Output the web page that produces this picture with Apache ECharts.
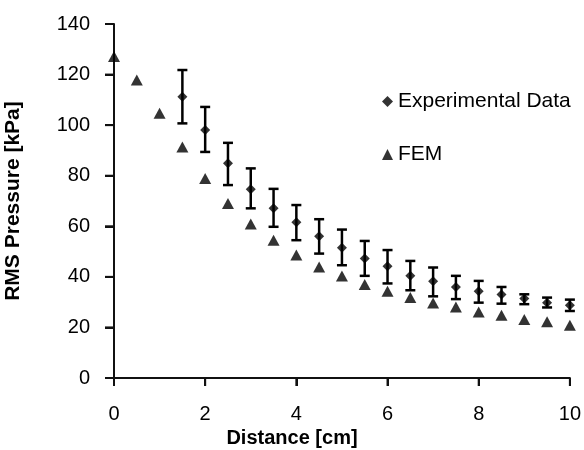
<!DOCTYPE html>
<html>
<head>
<meta charset="utf-8">
<script src="https://cdn.jsdelivr.net/npm/echarts@6/dist/echarts.min.js"></script>
<style>
html,body{margin:0;padding:0;background:#fff;}
#main{width:584px;height:450px;}
</style>
</head>
<body>
<div id="main"></div>
<script>
// experimental data (mean with error bars)
var expX = [1.5, 2, 2.5, 3, 3.5, 4, 4.5, 5, 5.5, 6, 6.5, 7, 7.5, 8, 8.5, 9, 9.5, 10];
var expMean = [111.2, 98.1, 84.9, 74.6, 67.1, 61.6, 56.1, 51.5, 47.3, 44.2, 40.4, 38.3, 36.0, 34.3, 33.0, 31.4, 29.8, 28.8];
var expLow = [100.7, 89.4, 76.3, 67.1, 59.8, 54.5, 49.2, 44.6, 40.4, 37.4, 34.7, 32.3, 31.2, 29.8, 29.4, 29.2, 27.9, 26.5];
var expHigh = [121.8, 107.2, 93.0, 82.9, 74.8, 68.4, 62.8, 58.7, 54.2, 50.6, 46.3, 43.7, 40.4, 38.4, 36.0, 33.1, 31.8, 31.0];

// FEM results
var femX = [0, 0.5, 1, 1.5, 2, 2.5, 3, 3.5, 4, 4.5, 5, 5.5, 6, 6.5, 7, 7.5, 8, 8.5, 9, 9.5, 10];
var femY = [127.1, 117.9, 104.7, 91.4, 78.9, 69.0, 60.9, 54.5, 48.6, 43.9, 40.3, 37.0, 34.3, 31.8, 29.7, 28.1, 26.1, 24.8, 23.1, 22.2, 20.9];

// tick values
var xTicks = [0, 2, 4, 6, 8, 10];
var yTicks = [0, 20, 40, 60, 80, 100, 120, 140];

var font = 'Liberation Sans';

var expData = [], errData = [], femData = [], xTickData = [], yTickData = [];
for (var i = 0; i < expX.length; i++) {
    expData.push([expX[i], expMean[i]]);
    errData.push([expX[i], expLow[i], expHigh[i]]);
}
for (var j = 0; j < femX.length; j++) {
    femData.push([femX[j], femY[j]]);
}
for (var k = 0; k < xTicks.length; k++) {
    xTickData.push([xTicks[k], 0]);
}
for (var m = 0; m < yTicks.length; m++) {
    yTickData.push([0, yTicks[m]]);
}

var tickStyle = {stroke: '#111', lineWidth: 2, fill: null};

var myChart = echarts.init(document.getElementById('main'));

var option = {
    animation: false,
    grid: {left: 114, right: 14, top: 24, bottom: 72},
    graphic: [
        {
            type: 'text',
            left: 'center',
            top: 428,
            style: {text: 'Distance [cm]', font: 'bold 20px "Liberation Sans"', fill: '#000'},
            x: 50
        },
        {
            type: 'text',
            rotation: Math.PI / 2,
            x: 13,
            y: 201,
            style: {text: 'RMS Pressure [kPa]', font: 'bold 21px "Liberation Sans"', fill: '#000', align: 'center', verticalAlign: 'middle'}
        }
    ],
    legend: {
        orient: 'vertical',
        left: 377,
        top: 86,
        itemWidth: 11,
        itemHeight: 11,
        itemGap: 32,
        textStyle: {fontFamily: font, fontSize: 21, color: '#000'},
        data: [
            {name: 'Experimental Data', icon: 'diamond'},
            {name: 'FEM', icon: 'triangle'}
        ]
    },
    xAxis: {
        type: 'value',
        min: 0,
        max: 10,
        interval: 2,
        splitLine: {show: false},
        axisLine: {show: true, lineStyle: {color: '#111', width: 2}},
        axisTick: {show: true, length: 8, lineStyle: {color: '#111', width: 2}},
        axisLabel: {fontFamily: font, fontSize: 20, color: '#000', margin: 26}
    },
    yAxis: {
        type: 'value',
        min: 0,
        max: 140,
        interval: 20,
        splitLine: {show: false},
        axisLine: {show: true, lineStyle: {color: '#111', width: 2}},
        axisTick: {show: true, length: 9, lineStyle: {color: '#111', width: 2}},
        axisLabel: {fontFamily: font, fontSize: 20, color: '#000', margin: 24}
    },
    series: [
        {
            name: 'Experimental Data',
            type: 'scatter',
            symbol: 'diamond',
            symbolSize: 10,
            itemStyle: {color: '#000'},
            data: expData,
            z: 3
        },
        {
            name: 'FEM',
            type: 'scatter',
            symbol: 'triangle',
            symbolSize: [12, 11],
            itemStyle: {color: '#000'},
            data: femData,
            clip: false,
            z: 3
        },
        {
            name: 'error',
            type: 'custom',
            renderItem: function (params, api) {
                var x = api.value(0);
                var lo = api.coord([x, api.value(1)]);
                var hi = api.coord([x, api.value(2)]);
                var half = 5;
                var style = {stroke: '#000', lineWidth: 2.5, fill: null};
                return {
                    type: 'group',
                    children: [
                        {type: 'line', shape: {x1: hi[0], y1: hi[1], x2: lo[0], y2: lo[1]}, style: style},
                        {type: 'line', shape: {x1: hi[0] - half, y1: hi[1], x2: hi[0] + half, y2: hi[1]}, style: style},
                        {type: 'line', shape: {x1: lo[0] - half, y1: lo[1], x2: lo[0] + half, y2: lo[1]}, style: style}
                    ]
                };
            },
            encode: {x: 0, y: [1, 2]},
            data: errData,
            z: 2
        },
        {
            name: 'xticks',
            type: 'custom',
            silent: true,
            clip: false,
            renderItem: function (params, api) {
                var p = api.coord([api.value(0), api.value(1)]);
                return {type: 'line', shape: {x1: p[0], y1: p[1], x2: p[0], y2: p[1] + 8}, style: tickStyle};
            },
            encode: {x: 0, y: 1},
            data: xTickData,
            z: 4
        },
        {
            name: 'yticks',
            type: 'custom',
            silent: true,
            clip: false,
            renderItem: function (params, api) {
                var p = api.coord([api.value(0), api.value(1)]);
                return {type: 'line', shape: {x1: p[0], y1: p[1], x2: p[0] - 9, y2: p[1]}, style: tickStyle};
            },
            encode: {x: 0, y: 1},
            data: yTickData,
            z: 4
        }
    ]
};
myChart.setOption(option);
</script>
</body>
</html>
